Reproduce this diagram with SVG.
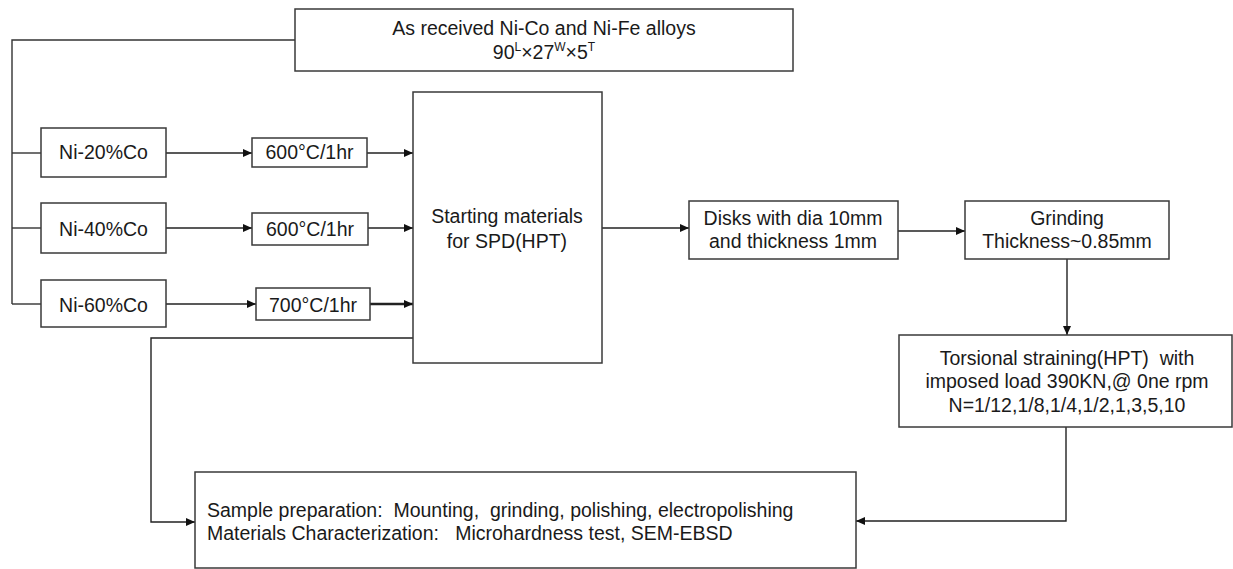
<svg xmlns="http://www.w3.org/2000/svg" width="1233" height="569" viewBox="0 0 1233 569">
  <defs>
    <marker id="ah" markerWidth="10" markerHeight="10" refX="9" refY="5" orient="auto" markerUnits="userSpaceOnUse">
      <path d="M0,1 L9,5 L0,9 Z" fill="#111"/>
    </marker>
    <style>
      .box { fill: #fff; stroke: #3a3a3a; stroke-width: 1.5; }
      .t { font-family: "Liberation Sans", Arial, sans-serif; font-size: 19.5px; fill: #1a1a1a; text-anchor: middle; white-space: pre; }
      .tl { font-family: "Liberation Sans", Arial, sans-serif; font-size: 19.5px; fill: #1a1a1a; white-space: pre; }
      .sup { font-size: 12px; }
      .c { fill: none; stroke: #333; stroke-width: 1.4; }
      .a { fill: none; stroke: #222; stroke-width: 1.4; marker-end: url(#ah); }
    </style>
  </defs>
  <rect width="1233" height="569" fill="#fff"/>

  <g id="connectors">
    <path class="c" d="M295,40 H12 V304"/>
    <path class="c" d="M12,153 H41"/>
    <path class="c" d="M12,228 H41"/>
    <path class="c" d="M12,304 H41"/>
    <path class="a" d="M166,153 H252"/>
    <path class="a" d="M166,228 H252"/>
    <path class="a" d="M166,304 H256"/>
    <path class="a" d="M367,153 H413"/>
    <path class="a" d="M368,228 H413"/>
    <path class="a" d="M370,304 H413" style="stroke-width:2.5"/>
    <path class="a" d="M602,228 H689"/>
    <path class="a" d="M898,231 H965"/>
    <path class="a" d="M1067,259 V335"/>
    <path class="a" d="M413,338 H151 V522 H195"/>
    <path class="a" d="M1066,427 V521 H856"/>
  </g>

  <g id="node-received">
    <rect class="box" x="295" y="9" width="498" height="62"/>
    <text class="t" x="544" y="35">As received Ni-Co and Ni-Fe alloys</text>
    <text class="t" x="544" y="59">90<tspan class="sup" dy="-8">L</tspan><tspan dy="8">×27</tspan><tspan class="sup" dy="-8">W</tspan><tspan dy="8">×5</tspan><tspan class="sup" dy="-8">T</tspan></text>
  </g>

  <g id="node-ni20">
    <rect class="box" x="41" y="128" width="125" height="49"/>
    <text class="t" x="103.5" y="159">Ni-20%Co</text>
  </g>
  <g id="node-ni40">
    <rect class="box" x="41" y="203" width="125" height="50"/>
    <text class="t" x="103.5" y="236">Ni-40%Co</text>
  </g>
  <g id="node-ni60">
    <rect class="box" x="41" y="280" width="125" height="47"/>
    <text class="t" x="103.5" y="312">Ni-60%Co</text>
  </g>

  <g id="node-ht1">
    <rect class="box" x="252" y="138" width="115" height="29"/>
    <text class="t" x="309.5" y="159">600°C/1hr</text>
  </g>
  <g id="node-ht2">
    <rect class="box" x="252" y="213" width="116" height="32"/>
    <text class="t" x="310" y="236">600°C/1hr</text>
  </g>
  <g id="node-ht3">
    <rect class="box" x="256" y="288" width="114" height="32"/>
    <text class="t" x="313" y="312">700°C/1hr</text>
  </g>

  <g id="node-starting">
    <rect class="box" x="413" y="92" width="189" height="271"/>
    <text class="t" x="507" y="223">Starting materials</text>
    <text class="t" x="507" y="248">for SPD(HPT)</text>
  </g>

  <g id="node-disks">
    <rect class="box" x="689" y="201" width="209" height="58"/>
    <text class="t" x="793" y="225">Disks with dia 10mm</text>
    <text class="t" x="793" y="248">and thickness 1mm</text>
  </g>

  <g id="node-grinding">
    <rect class="box" x="965" y="201" width="204" height="58"/>
    <text class="t" x="1067" y="225">Grinding</text>
    <text class="t" x="1067" y="248">Thickness~0.85mm</text>
  </g>

  <g id="node-torsion">
    <rect class="box" x="899" y="335" width="333" height="92"/>
    <text class="t" x="1067" y="365">Torsional straining(HPT)  with</text>
    <text class="t" x="1067" y="388">imposed load 390KN,@ 0ne rpm</text>
    <text class="t" x="1067" y="412">N=1/12,1/8,1/4,1/2,1,3,5,10</text>
  </g>

  <g id="node-characterization">
    <rect class="box" x="195" y="472" width="661" height="96"/>
    <text class="tl" x="207" y="517">Sample preparation:  Mounting,  grinding, polishing, electropolishing</text>
    <text class="tl" x="207" y="540">Materials Characterization:   Microhardness test, SEM-EBSD</text>
  </g>
</svg>
